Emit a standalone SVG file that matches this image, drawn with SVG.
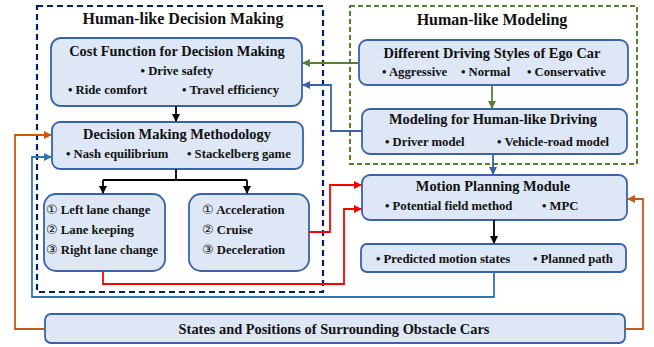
<svg xmlns="http://www.w3.org/2000/svg" width="654" height="347" viewBox="0 0 654 347">
<defs>
<style>
text{font-family:"Liberation Serif","Times New Roman",serif;font-weight:bold;fill:#111}
.box{fill:#dde7f5;stroke:#3a62aa;stroke-width:1.8}
.t{font-size:14.4px;text-anchor:middle}
.h{font-size:16px;text-anchor:middle}
.b{font-size:12.7px}
.n{font-family:"DejaVu Sans",sans-serif;font-weight:normal;font-size:13px}
.c{fill:none;stroke-width:1.8}
</style>
<marker id="ak" markerWidth="8" markerHeight="8" refX="7" refY="4" orient="auto" markerUnits="userSpaceOnUse"><path d="M0,0 L8,4 L0,8 Z" fill="#000"/></marker>
<marker id="ag" markerWidth="8" markerHeight="8" refX="7" refY="4" orient="auto" markerUnits="userSpaceOnUse"><path d="M0,0 L8,4 L0,8 Z" fill="#548235"/></marker>
<marker id="ab" markerWidth="8" markerHeight="8" refX="7" refY="4" orient="auto" markerUnits="userSpaceOnUse"><path d="M0,0 L8,4 L0,8 Z" fill="#3a62aa"/></marker>
<marker id="al" markerWidth="8" markerHeight="8" refX="7" refY="4" orient="auto" markerUnits="userSpaceOnUse"><path d="M0,0 L8,4 L0,8 Z" fill="#2e75b6"/></marker>
<marker id="ar" markerWidth="8" markerHeight="8" refX="7" refY="4" orient="auto" markerUnits="userSpaceOnUse"><path d="M0,0 L8,4 L0,8 Z" fill="#ff0000"/></marker>
<marker id="ao" markerWidth="8" markerHeight="8" refX="7" refY="4" orient="auto" markerUnits="userSpaceOnUse"><path d="M0,0 L8,4 L0,8 Z" fill="#c55a11"/></marker>
</defs>
<rect width="654" height="347" fill="#fff"/>

<g id="decision-group">
<rect x="37" y="6" width="286" height="286" fill="none" stroke="#002060" stroke-width="2.2" stroke-dasharray="6,4"/>
<text class="h" x="183" y="24">Human-like Decision Making</text>
</g>
<g id="modeling-group">
<rect x="350" y="6" width="287" height="158" fill="none" stroke="#548235" stroke-width="2" stroke-dasharray="5,3"/>
<text class="h" x="492" y="25">Human-like Modeling</text>
</g>

<g id="cost-function">
<rect class="box" x="51" y="38" width="251" height="68" rx="10"/>
<text class="t" x="177" y="56">Cost Function for Decision Making</text>
<text class="b" x="177" y="75" text-anchor="middle">• Drive safety</text>
<text class="b" x="68" y="94">• Ride comfort</text>
<text class="b" x="182" y="94">• Travel efficiency</text>
</g>

<g id="methodology">
<rect class="box" x="52" y="122" width="251" height="47" rx="8"/>
<text class="t" x="177" y="139">Decision Making Methodology</text>
<text class="b" x="66" y="158">• Nash equilibrium</text>
<text class="b" x="187" y="158">• Stackelberg game</text>
</g>

<g id="lane-options">
<rect class="box" x="44" y="194" width="121" height="77" rx="12"/>
<text class="b" x="46" y="214"><tspan class="n">①</tspan> Left lane change</text>
<text class="b" x="46" y="234"><tspan class="n">②</tspan> Lane keeping</text>
<text class="b" x="46" y="254"><tspan class="n">③</tspan> Right lane change</text>
</g>

<g id="speed-options">
<rect class="box" x="189" y="194" width="120" height="77" rx="12"/>
<text class="b" x="202" y="214"><tspan class="n">①</tspan> Acceleration</text>
<text class="b" x="202" y="234"><tspan class="n">②</tspan> Cruise</text>
<text class="b" x="202" y="254"><tspan class="n">③</tspan> Deceleration</text>
</g>

<g id="driving-styles">
<rect class="box" x="359" y="40" width="269" height="45" rx="8"/>
<text class="t" x="492" y="58">Different Driving Styles of Ego Car</text>
<text class="b" x="382" y="76">• Aggressive</text>
<text class="b" x="461" y="76">• Normal</text>
<text class="b" x="527" y="76">• Conservative</text>
</g>

<g id="human-like-driving">
<rect class="box" x="362" y="109" width="265" height="45" rx="8"/>
<text class="t" x="493" y="124">Modeling for Human-like Driving</text>
<text class="b" x="385" y="146">• Driver model</text>
<text class="b" x="497" y="146">• Vehicle-road model</text>
</g>

<g id="motion-planning">
<rect class="box" x="362" y="175" width="265" height="45" rx="8"/>
<text class="t" x="493" y="191">Motion Planning Module</text>
<text class="b" x="385" y="210">• Potential field method</text>
<text class="b" x="542" y="210">• MPC</text>
</g>

<g id="outputs">
<rect class="box" x="361" y="244" width="265" height="28" rx="6"/>
<text class="b" x="376" y="263">• Predicted motion states</text>
<text class="b" x="533" y="263">• Planned path</text>
</g>

<g id="obstacles">
<rect class="box" x="45" y="314" width="580" height="29" rx="6"/>
<text class="t" x="334" y="334">States and Positions of Surrounding Obstacle Cars</text>
</g>

<g id="connectors">
<path class="c" stroke="#000" d="M176,106 V121" marker-end="url(#ak)"/>
<path class="c" stroke="#000" d="M176,169 V180"/>
<path class="c" stroke="#000" d="M103,180 H247"/>
<path class="c" stroke="#000" d="M103,180 V193" marker-end="url(#ak)"/>
<path class="c" stroke="#000" d="M247,180 V193" marker-end="url(#ak)"/>
<path class="c" stroke="#548235" d="M492,85 V108" marker-end="url(#ag)"/>
<path class="c" stroke="#548235" d="M359,63 H303" marker-end="url(#ag)"/>
<path class="c" stroke="#3a62aa" d="M362,131 H331 V85 H303" marker-end="url(#ab)"/>
<path class="c" stroke="#3a62aa" d="M493,154 V174" marker-end="url(#ab)"/>
<path class="c" stroke="#000" d="M494,220 V243" marker-end="url(#ak)"/>
<path class="c" stroke="#ff0000" d="M309,232 H330 V185 H361" marker-end="url(#ar)"/>
<path class="c" stroke="#ff0000" d="M103,271 V284 H344 V209 H361" marker-end="url(#ar)"/>
<path class="c" stroke="#2e75b6" d="M494,272 V297 H32 V157 H51" marker-end="url(#al)"/>
<path class="c" stroke="#c55a11" d="M45,329 H15 V135 H51" marker-end="url(#ao)"/>
<path class="c" stroke="#c55a11" d="M625,329 H643 V199 H628" marker-end="url(#ao)"/>
</g>
</svg>
